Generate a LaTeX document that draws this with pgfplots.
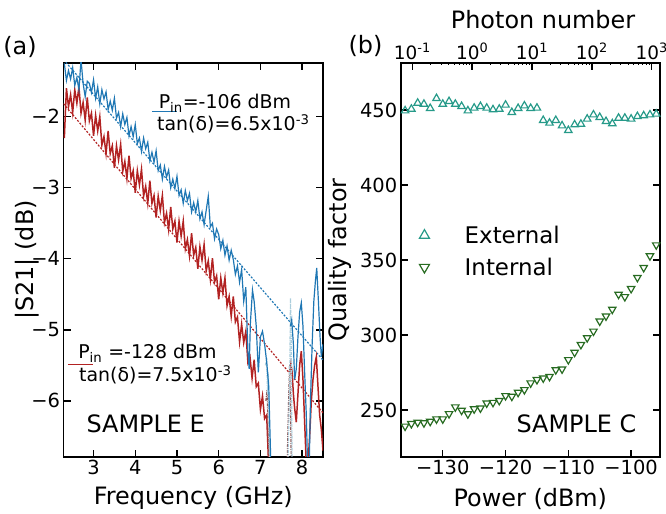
\documentclass[border=0pt]{standalone}
\usepackage{pgfplots}
\pgfplotsset{compat=1.18}
\usepackage{fontspec}
\setmainfont{DejaVu Sans}

\definecolor{cblue}{RGB}{31,119,180}
\definecolor{cred}{RGB}{178,34,34}
\definecolor{lblue}{RGB}{170,205,220}
\definecolor{cbrown}{RGB}{140,90,90}
\definecolor{cteal}{RGB}{38,154,137}
\definecolor{cgreen}{RGB}{39,107,33}

\newcommand{\tickfont}{\fontsize{19.5}{21}\selectfont}
\newcommand{\labfont}{\fontsize{24}{28}\selectfont}
\newcommand{\legfont}{\fontsize{19}{22}\selectfont}

\pgfplotsset{
  myaxis/.style={
    scale only axis,
    axis line style={line width=1.6pt},
    every tick/.style={black, line width=1.4pt},
    major tick length=7.5pt,
    tick align=inside,
    ticklabel style={font=\tickfont},
    label style={font=\labfont},
    /pgf/number format/assume math mode=true,
  },
}

\begin{document}
\begin{tikzpicture}
\useasboundingbox (0,0) rectangle (666bp,514bp);

% ---------------- panel (a)
\begin{axis}[myaxis,
  at={(63.5bp,57bp)}, anchor=south west,
  width=259.5bp, height=394bp,
  xmin=2.28, xmax=8.5, ymin=-6.79, ymax=-1.244,
  xtick={3,4,5,6,7,8},
  ytick={-6,-5,-4,-3,-2},
  yticklabels={−6,−5,−4,−3,−2},
  xlabel={Frequency (GHz)},
  ylabel={|S21| (dB)},
  xlabel style={at={(axis description cs:0.5,-0.104)}, anchor=center},
  ylabel style={at={(axis description cs:-0.14,0.5)}, anchor=center},
]
% fits
\addplot[cblue, line width=1.2pt, dash pattern=on 2pt off 1.6pt] coordinates {(2.28,-1.196) (8.5,-5.426)};
\addplot[cred, line width=1.2pt, dash pattern=on 2pt off 1.6pt] coordinates {(2.28,-1.816) (8.5,-6.17)};

% Pin = -128 dBm
\addplot[cred, line width=1.5pt] coordinates {
(2.30,-2.30) (2.35,-1.60) (2.40,-1.86) (2.45,-1.69) (2.50,-1.94) (2.55,-1.62)
(2.60,-1.81) (2.65,-1.58) (2.70,-1.95) (2.75,-1.80) (2.80,-2.05) (2.85,-1.73)
(2.90,-2.06) (2.95,-1.95) (3.00,-2.27) (3.05,-1.98) (3.10,-2.20) (3.15,-2.00)
(3.20,-2.40) (3.25,-2.28) (3.30,-2.52) (3.35,-2.20) (3.40,-2.52) (3.45,-2.41)
(3.50,-2.72) (3.55,-2.41) (3.60,-2.61) (3.65,-2.39) (3.70,-2.77) (3.75,-2.63)
(3.80,-2.87) (3.85,-2.55) (3.90,-2.87) (3.95,-2.76) (4.00,-3.07) (4.05,-2.76)
(4.10,-2.96) (4.15,-2.74) (4.20,-3.12) (4.25,-2.98) (4.30,-3.22) (4.35,-2.90)
(4.40,-3.22) (4.45,-3.11) (4.50,-3.42) (4.55,-3.12) (4.60,-3.32) (4.65,-3.11)
(4.70,-3.49) (4.75,-3.36) (4.80,-3.59) (4.85,-3.27) (4.90,-3.58) (4.95,-3.47)
(5.00,-3.77) (5.05,-3.47) (5.10,-3.68) (5.15,-3.47) (5.20,-3.86) (5.25,-3.73)
(5.30,-3.96) (5.35,-3.64) (5.40,-3.95) (5.45,-3.84) (5.50,-4.14) (5.55,-3.83)
(5.60,-4.02) (5.65,-3.80) (5.70,-4.17) (5.75,-4.03) (5.80,-4.29) (5.85,-3.99)
(5.90,-4.33) (5.95,-4.24) (6.00,-4.57) (6.05,-4.27) (6.10,-4.48) (6.15,-4.27)
(6.20,-4.66) (6.25,-4.53) (6.30,-4.81) (6.35,-4.53) (6.40,-4.89) (6.45,-4.82)
(6.50,-5.17) (6.55,-4.92) (6.60,-5.18) (6.65,-5.02) (6.70,-5.46) (6.75,-5.38)
(6.80,-5.68) (6.85,-5.42) (6.90,-5.80) (6.95,-5.75) (7.00,-6.12) (7.05,-5.93)
(7.10,-6.25) (7.15,-6.20) (7.20,-6.95)
};
\addplot[cred, line width=1.5pt] coordinates {
(7.70,-5.60) (7.73,-5.47) (7.76,-5.60) (7.79,-5.90) (7.82,-6.10) (7.86,-6.30)
(7.90,-5.90) (7.94,-5.50) (7.98,-5.30) (8.02,-5.70) (8.06,-6.30) (8.10,-6.90)
(8.14,-6.90) (8.18,-6.50) (8.22,-6.00) (8.26,-5.70) (8.30,-5.50) (8.34,-5.38)
(8.38,-5.80) (8.42,-6.20) (8.46,-6.40) (8.50,-6.70)
};
% light traces in the gap
\addplot[cbrown, line width=1.2pt, dash pattern=on 3pt off 1pt on 1pt off 1pt] coordinates {
(7.13,-6.00) (7.16,-5.85) (7.18,-6.30) (7.21,-6.90)
};
\addplot[cbrown, line width=1.2pt, dash pattern=on 3pt off 1pt on 1pt off 1pt] coordinates {
(7.64,-6.90) (7.68,-5.90) (7.70,-5.50) (7.72,-6.00) (7.74,-6.90)
};
\addplot[lblue, line width=1.2pt, dash pattern=on 3pt off 1pt on 1pt off 1pt] coordinates {
(7.12,-5.50) (7.15,-5.40) (7.17,-5.90) (7.19,-5.60) (7.22,-6.90)
};
\addplot[lblue, line width=1.2pt, dash pattern=on 3pt off 1pt on 1pt off 1pt] coordinates {
(7.66,-6.90) (7.70,-5.80) (7.72,-4.55) (7.74,-5.20) (7.76,-6.90)
};

% Pin = -106 dBm
\addplot[cblue, line width=1.2pt] coordinates {
(2.30,-1.25) (2.35,-1.49) (2.40,-1.35) (2.45,-1.47) (2.50,-1.31) (2.55,-1.56)
(2.60,-1.45) (2.65,-1.62) (2.70,-1.20) (2.75,-1.53) (2.80,-1.72) (2.85,-1.50)
(2.90,-1.53) (2.95,-1.66) (3.00,-1.48) (3.05,-1.74) (3.10,-1.58) (3.15,-1.82)
(3.20,-1.62) (3.25,-1.75) (3.30,-1.65) (3.35,-1.90) (3.40,-1.78) (3.45,-1.91)
(3.50,-1.74) (3.55,-2.02) (3.60,-1.94) (3.65,-2.14) (3.70,-1.96) (3.75,-2.11)
(3.80,-2.01) (3.85,-2.27) (3.90,-2.14) (3.95,-2.28) (4.00,-2.11) (4.05,-2.38)
(4.10,-2.30) (4.15,-2.49) (4.20,-2.30) (4.25,-2.45) (4.30,-2.36) (4.35,-2.62)
(4.40,-2.50) (4.45,-2.64) (4.50,-2.48) (4.55,-2.76) (4.60,-2.68) (4.65,-2.88)
(4.70,-2.70) (4.75,-2.85) (4.80,-2.75) (4.85,-3.00) (4.90,-2.88) (4.95,-3.01)
(5.00,-2.84) (5.05,-3.11) (5.10,-3.03) (5.15,-3.22) (5.20,-3.04) (5.25,-3.18)
(5.30,-3.08) (5.35,-3.34) (5.40,-3.21) (5.45,-3.34) (5.50,-3.18) (5.55,-3.44)
(5.60,-3.34) (5.65,-3.52) (5.70,-3.32) (5.75,-3.12) (5.80,-3.55) (5.85,-3.50)
(5.90,-3.72) (5.95,-3.58) (6.00,-3.66) (6.05,-3.86) (6.10,-3.74) (6.15,-3.95)
(6.20,-3.82) (6.25,-4.02) (6.30,-3.88) (6.35,-4.01) (6.40,-4.22) (6.45,-4.10)
(6.50,-4.33) (6.55,-4.15) (6.60,-4.60) (6.65,-4.40) (6.70,-5.30) (6.73,-5.55)
(6.76,-4.90) (6.81,-4.44) (6.85,-4.60) (6.90,-4.95) (6.95,-5.60) (7.00,-5.10)
(7.05,-5.02) (7.10,-5.20) (7.15,-5.45) (7.20,-5.80) (7.25,-6.90)
};
\addplot[cblue, line width=1.2pt] coordinates {
(7.72,-4.95) (7.75,-4.86) (7.79,-5.20) (7.82,-5.70) (7.86,-5.55) (7.90,-5.10)
(7.94,-4.75) (7.98,-4.62) (8.02,-4.95) (8.06,-5.60) (8.10,-6.20) (8.13,-6.90)
(8.17,-6.90) (8.20,-6.00) (8.24,-5.20) (8.28,-4.60) (8.32,-4.30) (8.35,-4.13)
(8.39,-4.60) (8.43,-5.10) (8.46,-5.38) (8.50,-5.20)
};

% in-plot legend texts
\draw[cblue, line width=1.2pt] (axis cs:4.40,-1.93) -- (axis cs:5.00,-1.93);
\node[font=\legfont, anchor=base west, inner sep=0pt] at (axis cs:4.56,-1.88) {P\textsubscript{in}=-106 dBm};
\node[font=\legfont, anchor=base west, inner sep=0pt] at (axis cs:4.52,-2.20) {tan(δ)=6.5x10\textsuperscript{-3}};
\draw[cred, line width=1.2pt] (axis cs:2.39,-5.49) -- (axis cs:2.99,-5.49);
\node[font=\legfont, anchor=base west, inner sep=0pt] at (axis cs:2.63,-5.40) {P\textsubscript{in} =-128 dBm};
\node[font=\legfont, anchor=base west, inner sep=0pt] at (axis cs:2.65,-5.73) {tan(δ)=7.5x10\textsuperscript{-3}};
\node[font=\labfont, anchor=center, inner sep=0pt] at (axis cs:4.25,-6.32) {SAMPLE E};
\end{axis}

% ---------------- panel (b), photon number axis on top
\begin{axis}[myaxis,
  at={(400.7bp,57bp)}, anchor=south west,
  width=259.3bp, height=394bp,
  xmode=log, xmin=0.064, xmax=1377,
  ymin=0, ymax=1,
  axis x line*=top, hide y axis,
  tick align=inside,
  xtick={0.1,1,10,100,1000},
  xticklabels={10\textsuperscript{-1},10\textsuperscript{0},10\textsuperscript{1},10\textsuperscript{2},10\textsuperscript{3}},
  xticklabel style={font=\fontsize{18.5}{20}\selectfont},
  minor tick length=2.5pt,
  every minor tick/.style={black, line width=0.6pt},
  xlabel={Photon number},
  xlabel style={at={(axis description cs:0.549,1.109)}, anchor=center},
]
\end{axis}

\begin{axis}[myaxis,
  at={(400.7bp,57bp)}, anchor=south west,
  width=259.3bp, height=394bp,
  xmin=-136.7, xmax=-95.4, ymin=218.7, ymax=481.3,
  xtick pos=lower,
  xtick={-130,-120,-110,-100},
  xticklabels={−130,−120,−110,−100},
  ytick={250,300,350,400,450},
  xlabel={Power (dBm)},
  ylabel={Quality factor},
  xlabel style={at={(axis description cs:0.5,-0.106)}, anchor=center},
  ylabel style={at={(axis description cs:-0.234,0.5)}, anchor=center},
  legend style={draw=none, fill=none, font=\fontsize{23}{26}\selectfont,
    at={(axis description cs:0.06,0.522)}, anchor=west,
    row sep=9pt},
  legend cell align=left,
  legend image code/.code={
    \path[draw=none, fill=none] (0cm,0cm) -- (1.35cm,0cm);
    \draw[#1, /tikz/every mark/.append style={scale=1.35}] plot coordinates {(0cm,0cm)};
  },
]
\addplot[only marks, mark=triangle, mark size=4.3pt, cteal, line width=1.2pt]
coordinates {
(-136,449.5) (-135,450.6) (-134,454.6) (-133,453.9) (-132,451.1) (-131,457.7)
(-130,453.9) (-129,455.7) (-128,453.9) (-127,452.4) (-126,449.5) (-125,451.3)
(-124,452.4) (-123,451.3) (-122,450.2) (-121,450.6) (-120,453.3) (-119,448.4)
(-118,451.1) (-117,452.8) (-116,451.1) (-115,451.3) (-114,443.1) (-113,441.3)
(-112,443.1) (-111,439.5) (-110,436.4) (-109,440.2) (-108,440.6) (-107,444.0)
(-106,446.8) (-105,445.1) (-104,442.4) (-103,440.9) (-102,444.6) (-101,444.6)
(-100,444.0) (-99,445.7) (-98,446.2) (-97,446.8) (-96,447.3)
};
\addlegendentry{External}
\addplot[only marks, mark=triangle, mark options={rotate=180}, mark size=4.3pt, cgreen, line width=1.2pt]
coordinates {
(-136,239.2) (-135,240.9) (-134,241.8) (-133,241.4) (-132,242.4) (-131,244.0)
(-130,244.0) (-129,247.5) (-128,252.0) (-127,249.8) (-126,247.4) (-125,250.7)
(-124,251.3) (-123,254.6) (-122,255.0) (-121,256.3) (-120,259.5) (-119,259.1)
(-118,261.7) (-117,263.5) (-116,268.0) (-115,270.2) (-114,271.3) (-113,272.3)
(-112,276.8) (-111,277.3) (-110,283.5) (-109,288.4) (-108,293.6) (-107,298.1)
(-106,302.5) (-105,309.2) (-104,312.6) (-103,317.1) (-102,327.1) (-101,325.5)
(-100,330.9) (-99,338.3) (-98,344.9) (-97,352.7) (-96,360.0)
};
\addlegendentry{Internal}
\node[font=\labfont, anchor=center, inner sep=0pt] at (axis cs:-108.7,240.7) {SAMPLE C};
\end{axis}

\node[font=\labfont, anchor=center] at (20bp,467bp) {(a)};
\node[font=\labfont, anchor=center] at (365.5bp,468bp) {(b)};
\end{tikzpicture}
\end{document}
